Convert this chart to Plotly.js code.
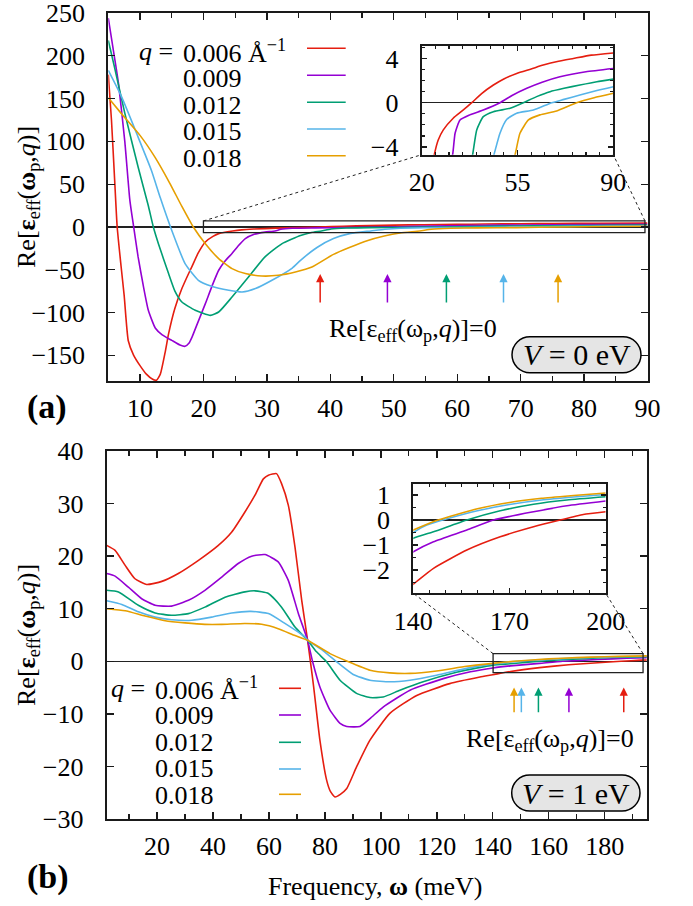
<!DOCTYPE html>
<html><head><meta charset="utf-8">
<script src="https://cdn.plot.ly/plotly-3.0.1.min.js"></script>
<style>body{margin:0;background:#fff}#chart{width:693px;height:906px}</style>
</head><body><div id="chart"></div>
<script>
// ---------- data ----------
const qLabels = ['0.006', '0.009', '0.012', '0.015', '0.018'];
const colors = ['#e51e10', '#9400d3', '#009e73', '#56b4e9', '#e69f00'];

// Panel (a): V = 0 eV
const aX006 = [5, 5.5, 6, 6.4, 7, 7.5, 8.15, 9, 10, 11, 12, 12.6, 13.2, 14, 14.5, 15.5, 16.6, 17.5, 18.2, 19.2, 20.3, 21.5, 22.5, 24.6, 26, 27.9, 31.5, 35, 38.3, 42, 46.2, 50, 54.7, 60, 64.4, 70, 75.4, 82, 90];
const aY006 = [178, 125, 55, 0, -45, -80, -133, -150, -162, -172, -178, -179, -172, -145, -125, -95, -72, -57, -46, -30, -17.5, -11, -7.5, -4.7, -3.4, -2.46, -1.4, -0.7, 0, 0.85, 1.6, 2.15, 2.65, 3.05, 3.4, 3.75, 4.0, 4.3, 4.5];
const aX009 = [5, 6, 6.6, 7.6, 8.4, 9.0, 9.7, 10.5, 11.3, 12.4, 13.5, 15, 16.3, 17.1, 17.7, 18.2, 19.2, 20.3, 21.3, 22.4, 23.5, 24.5, 25.5, 26.6, 28, 29.7, 31.3, 32.2, 34, 37.6, 42.5, 48.6, 53, 58.4, 64, 70.5, 80, 90];
const aY009 = [244, 197, 168, 100, 31, 0, -35, -68, -97, -118, -126, -132.5, -138, -139.5, -136, -128.7, -110, -89.6, -70, -50.6, -39, -31, -22, -13.6, -8.5, -6, -4.7, -2.76, -1.56, -1.1, -0.66, 0, 0.65, 1.3, 1.85, 2.34, 2.8, 3.1];
const aX012 = [5, 6, 7.6, 9.7, 11.3, 12.1, 12.9, 14.5, 15.5, 16.6, 18.7, 21.1, 22.4, 24.5, 27.1, 29.7, 32.4, 35.3, 37, 38.6, 40.1, 42.5, 46.2, 52.3, 57.1, 62, 66.9, 72, 77.8, 84, 90];
const aY012 = [218, 186, 133, 70, 25, 0, -19.5, -54.5, -75, -87.7, -97.4, -103.3, -99.4, -81.9, -58.5, -35, -19.5, -10, -6.5, -4.7, -2.46, -1.26, -0.81, -0.5, 0, 0.55, 1.0, 1.3, 1.6, 1.9, 2.13];
const aX015 = [5, 7.1, 9.7, 11.8, 13.2, 14.8, 17.1, 19.2, 21.3, 24, 26.1, 28.2, 30.8, 34, 35.3, 37.9, 40.5, 43.2, 46.4, 48.6, 51.1, 54.7, 60.8, 67.5, 72, 77.8, 84, 90];
const aY015 = [183, 152, 105, 66, 34, 0, -42.8, -62.3, -69.4, -74, -76, -72, -62.3, -48, -39, -24, -13.6, -7.5, -4.7, -2.76, -1.5, -0.95, -0.66, 0, 0.3, 0.69, 1.1, 1.44];
const aX018 = [5, 7, 10, 12.4, 14.7, 16.6, 18.4, 20.3, 22.4, 24.5, 26.6, 29.2, 31.8, 34.5, 37.1, 40.5, 43, 45.8, 48.5, 51, 54.1, 55.9, 59, 63.2, 69.3, 76.6, 83, 90];
const aY018 = [151, 133, 107, 81, 51, 24, 0, -19.5, -37, -48.7, -54.5, -57.3, -56.5, -52.6, -46.8, -32, -24, -16, -10.5, -7, -4.7, -2.76, -1.56, -1.1, -0.75, 0, 0.45, 0.85];
const aArrows = [38.4, 49.0, 58.3, 67.3, 75.9];

// Panel (b): V = 1 eV
const bX006 = [2, 5, 8.6, 12.1, 16.3, 21.7, 27.6, 34.8, 41.9, 46.7, 51.4, 55, 58, 59.8, 62.7, 64.5, 66.9, 69.3, 71.7, 73.8, 74.8, 76, 78.2, 80.6, 82, 83.6, 85.5, 87.8, 91.3, 96.1, 103.2, 112.8, 124.6, 135.4, 140, 146.3, 156.7, 167.1, 177.5, 185.8, 193, 200];
const bY006 = [22.05, 21.1, 18.25, 15.7, 14.6, 15.2, 16.7, 19.2, 22.05, 24.6, 28.4, 31.6, 34.7, 35.4, 35.7, 33.8, 29.7, 21.7, 11.6, 4.0, 0, -5, -15, -22.6, -24.8, -25.8, -25.3, -24.2, -20.1, -15, -9.9, -6.5, -4.25, -3.0, -2.56, -1.93, -1.2, -0.67, -0.27, 0, 0.22, 0.33];
const bX009 = [2, 5, 9.75, 14.5, 19.3, 25.2, 31.2, 37.1, 43.1, 49, 53.8, 58.6, 63.3, 66.9, 70.5, 73.8, 75.6, 78.2, 81.8, 85.4, 87.8, 92.5, 96.1, 100.8, 110.4, 122.3, 132, 140, 146.3, 156.7, 165, 177.5, 187.9, 200];
const bY009 = [16.7, 16.2, 14.1, 11.9, 10.65, 10.5, 11.6, 13.5, 16, 18.6, 20, 20.3, 18.9, 15.4, 9.1, 4.0, -0.1, -4.9, -9.3, -11.8, -12.4, -12.4, -10.9, -8.7, -5.5, -3.3, -2.0, -1.27, -0.87, -0.4, 0, 0.33, 0.57, 0.76];
const bX012 = [2, 6.2, 13.3, 19.3, 25.2, 31.2, 37.1, 44.3, 51.4, 55, 59.8, 64.5, 69.3, 73.8, 77, 80.6, 85.4, 91.3, 96.1, 100.8, 106.8, 115.1, 127, 134, 140, 146.3, 156.7, 167.1, 177.5, 187.9, 200];
const bY012 = [13.5, 13.2, 10.65, 9.2, 8.75, 9.07, 10.3, 12.2, 13.2, 13.4, 12.9, 10.3, 6.5, 4.0, 1.8, -0.1, -3.6, -6.1, -6.9, -6.8, -5.5, -3.9, -2.1, -1.3, -0.73, -0.47, 0, 0.37, 0.63, 0.8, 0.93];
const bX015 = [2, 7.4, 13.3, 19.3, 25.2, 32.4, 39.5, 46.7, 53.5, 59.8, 65.4, 72.9, 73.8, 79.4, 84.2, 90.1, 96.1, 103.2, 110.4, 119.9, 130.6, 140, 144.2, 150, 160, 170, 180, 190, 200];
const bY015 = [11.5, 10.8, 9.4, 8.4, 7.9, 7.8, 8.4, 9.2, 9.5, 9.07, 7.3, 4.6, 4.0, 2.0, -0.1, -2.5, -3.6, -3.9, -3.6, -2.66, -1.35, -0.5, -0.2, 0.03, 0.37, 0.62, 0.8, 0.92, 1.02];
const bX018 = [2, 8.6, 15.7, 22.9, 30, 37.1, 43.1, 51.4, 57.4, 63.3, 69.3, 73.8, 81.8, 88, 96.1, 103.2, 110.4, 119.9, 130.6, 140, 147.7, 160, 170, 180, 190, 200];
const bY018 = [10.0, 9.6, 8.6, 7.7, 7.3, 7.03, 7.03, 7.2, 7.03, 6.2, 4.9, 4.0, 1.46, 0, -1.7, -2.2, -2.3, -1.84, -0.95, -0.4, 0, 0.45, 0.7, 0.87, 0.98, 1.08];
const bArrows = [186.8, 167.2, 156.3, 150.2, 147.6];

// ---------- layout helpers ----------
const W = 693, H = 906;
const PX = p => p / W;
const PY = p => 1 - p / H;
const FONT = '"Liberation Serif", "Times New Roman", serif';

const dom = {
  a:  {x: [PX(108.3), PX(647.5)], y: [PY(381), PY(13)], xr: [5, 90], yr: [-180, 250]},
  b:  {x: [PX(106.7), PX(646.7)], y: [PY(819), PY(451)], xr: [2, 195], yr: [-30, 40]},
  ia: {x: [PX(421.7), PX(613.3)], y: [PY(154.7), PY(46.3)], xr: [20, 90], yr: [-4.7, 5.1]},
  ib: {x: [PX(413.3), PX(605.7)], y: [PY(593.3), PY(484.3)], xr: [140, 200], yr: [-2.93, 1.43]}
};
function paperToData(d, px, py) {
  return [d.xr[0] + (px - d.x[0]) / (d.x[1] - d.x[0]) * (d.xr[1] - d.xr[0]),
          d.yr[0] + (py - d.y[0]) / (d.y[1] - d.y[0]) * (d.yr[1] - d.yr[0])];
}

function axis(d, which, opts) {
  return Object.assign({
    domain: which === 'x' ? d.x : d.y,
    range: which === 'x' ? d.xr : d.yr,
    showgrid: false, zeroline: false,
    showline: true, linecolor: '#1a1a1a', linewidth: 2, mirror: 'ticks',
    ticks: 'inside', ticklen: 7, tickwidth: 1.3, tickcolor: '#1a1a1a',
    tickfont: {family: FONT, size: 26, color: '#000'},
    ticklabeloverflow: 'allow',
    ticklabelstandoff: which === 'x' ? 3 : 16,
    fixedrange: true
  }, opts);
}

const seriesA = [[aX006, aY006], [aX009, aY009], [aX012, aY012], [aX015, aY015], [aX018, aY018]];
const seriesB = [[bX006, bY006], [bX009, bY009], [bX012, bY012], [bX015, bY015], [bX018, bY018]];

const traces = [];
const lineStyle = i => ({color: colors[i], width: 1.6, shape: 'spline', smoothing: 0.5});
seriesA.forEach((s, i) => {
  traces.push({x: s[0], y: s[1], xaxis: 'x', yaxis: 'y', mode: 'lines', line: lineStyle(i), showlegend: false, hoverinfo: 'skip'});
  traces.push({x: s[0], y: s[1], xaxis: 'x3', yaxis: 'y3', mode: 'lines', line: lineStyle(i), showlegend: false, hoverinfo: 'skip'});
});
seriesB.forEach((s, i) => {
  traces.push({x: s[0], y: s[1], xaxis: 'x2', yaxis: 'y2', mode: 'lines', line: lineStyle(i), showlegend: false, hoverinfo: 'skip'});
  traces.push({x: s[0], y: s[1], xaxis: 'x4', yaxis: 'y4', mode: 'lines', line: lineStyle(i), showlegend: false, hoverinfo: 'skip'});
});

const annotations = [];
const shapes = [];
const txt = (text, x, y, size, extra) => Object.assign({text, x, y, xref: 'paper', yref: 'paper', showarrow: false, font: {family: FONT, size: size, color: '#000'}, xanchor: 'center', yanchor: 'middle'}, extra || {});

// arrows marking Re[eps]=0
aArrows.forEach((xv, i) => annotations.push({x: xv, y: -55, ax: xv, ay: -90, xref: 'x', yref: 'y', axref: 'x', ayref: 'y', text: '', showarrow: true, arrowhead: 2, arrowsize: 1.1, arrowwidth: 1.5, arrowcolor: colors[i], standoff: 0, startstandoff: 0}));
bArrows.forEach((xv, i) => annotations.push({x: xv, y: -5, ax: xv, ay: -10, xref: 'x2', yref: 'y2', axref: 'x2', ayref: 'y2', text: '', showarrow: true, arrowhead: 2, arrowsize: 1.1, arrowwidth: 1.5, arrowcolor: colors[i], standoff: 0, startstandoff: 0}));

const reText = 'Re[ε<sub>eff</sub>(ω<sub>p</sub>,<i>q</i>)]=0';
annotations.push(txt(reText, PX(413), PY(330), 26));
annotations.push(txt(reText, PX(549.5), PY(740), 26));

// V boxes
function stadium(x1, y1, x2, y2) {
  const r = (y2 - y1) / 2, k = 0.5523 * r, cy = (y1 + y2) / 2;
  const P = (x, y) => PX(x).toFixed(5) + ',' + PY(y).toFixed(5);
  return 'M ' + P(x1 + r, y1) + ' L ' + P(x2 - r, y1) +
    ' C ' + P(x2 - r + k, y1) + ' ' + P(x2, cy - k) + ' ' + P(x2, cy) +
    ' C ' + P(x2, cy + k) + ' ' + P(x2 - r + k, y2) + ' ' + P(x2 - r, y2) +
    ' L ' + P(x1 + r, y2) +
    ' C ' + P(x1 + r - k, y2) + ' ' + P(x1, cy + k) + ' ' + P(x1, cy) +
    ' C ' + P(x1, cy - k) + ' ' + P(x1 + r - k, y1) + ' ' + P(x1 + r, y1) + ' Z';
}
shapes.push({type: 'path', xref: 'paper', yref: 'paper', path: stadium(512, 336.7, 641, 372.7), fillcolor: '#e5e5e5', line: {color: '#000', width: 1.5}, layer: 'above'});
shapes.push({type: 'path', xref: 'paper', yref: 'paper', path: stadium(511.7, 775, 640, 811), fillcolor: '#e5e5e5', line: {color: '#000', width: 1.5}, layer: 'above'});
annotations.push(txt('<i>V</i> = 0 eV', PX(576.5), PY(354.7), 30));
annotations.push(txt('<i>V</i> = 1 eV', PX(575.8), PY(793), 30));

// zoom rectangles + dashed connectors
shapes.push({type: 'rect', xref: 'x', yref: 'y', x0: 20, x1: 89.6, y0: -6.55, y1: 7, line: {color: '#222', width: 1.3}, layer: 'above'});
shapes.push({type: 'rect', xref: 'x2', yref: 'y2', x0: 140.1, x1: 193.7, y0: -2.15, y1: 1.46, line: {color: '#222', width: 1.3}, layer: 'above'});
const cA1 = paperToData(dom.a, dom.ia.x[0], dom.ia.y[0]);
const cA2 = paperToData(dom.a, dom.ia.x[1], dom.ia.y[0]);
shapes.push({type: 'line', xref: 'x', yref: 'y', x0: 20, y0: 7, x1: cA1[0], y1: cA1[1], line: {color: '#222', width: 1, dash: '3px,3px'}});
shapes.push({type: 'line', xref: 'x', yref: 'y', x0: 89.6, y0: 7, x1: cA2[0], y1: cA2[1], line: {color: '#222', width: 1, dash: '3px,3px'}});
const cB1 = paperToData(dom.b, dom.ib.x[0], dom.ib.y[0]);
const cB2 = paperToData(dom.b, dom.ib.x[1], dom.ib.y[0]);
shapes.push({type: 'line', xref: 'x2', yref: 'y2', x0: 140.1, y0: 1.46, x1: cB1[0], y1: cB1[1], line: {color: '#222', width: 1, dash: '3px,3px'}});
shapes.push({type: 'line', xref: 'x2', yref: 'y2', x0: 193.7, y0: 1.46, x1: cB2[0], y1: cB2[1], line: {color: '#222', width: 1, dash: '3px,3px'}});

// custom legends (text left, line sample right)
const legA = {qx: 175, numX: 180.7, lineX: [307, 345.7], lineY: [48.3, 75.3, 102.3, 129, 155.7], textY: [51.7, 78.5, 105.3, 132, 158.7]};
const legB = {qx: 147, numX: 152.7, lineX: [279, 301], lineY: [688.3, 715, 742.3, 769, 794.3], textY: [688.7, 715.3, 742, 768.7, 795.3]};
[legA, legB].forEach(L => {
  qLabels.forEach((lab, i) => {
    const t = i === 0 ? lab + ' Å<sup>−1</sup>' : lab;
    annotations.push(txt(t, PX(L.numX), PY(L.textY[i]), 26, {xanchor: 'left'}));
    shapes.push({type: 'line', xref: 'paper', yref: 'paper', x0: PX(L.lineX[0]), x1: PX(L.lineX[1]), y0: PY(L.lineY[i]), y1: PY(L.lineY[i]), line: {color: colors[i], width: 1.6}});
  });
  annotations.push(txt('<i>q</i> =', PX(L.qx), PY(L.textY[0]), 26, {xanchor: 'right'}));
});

// axis titles and panel labels
const yTitle = 'Re[<b>ε</b><sub>eff</sub>(<b>ω</b><sub>p</sub>,<i>q</i>)]';
annotations.push(txt(yTitle, PX(28), PY(197), 26, {textangle: -90}));
annotations.push(txt(yTitle, PX(28), PY(635), 26, {textangle: -90}));
annotations.push(txt('Frequency, <b>ω</b> (meV)', PX(375), PY(886.7), 26));
annotations.push(txt('<b>(a)</b>', PX(46.7), PY(407.3), 34));
annotations.push(txt('<b>(b)</b>', PX(48), PY(877), 34));

const minorOf = (dt, len) => ({ticks: 'inside', dtick: dt, ticklen: len, tickcolor: '#1a1a1a', tickwidth: 1.2});
const zl = {zeroline: true, zerolinecolor: '#222', zerolinewidth: 1.2};

const layout = {
  width: W, height: H,
  margin: {l: 0, r: 0, t: 0, b: 0, pad: 0},
  paper_bgcolor: '#fff', plot_bgcolor: 'rgba(0,0,0,0)',
  showlegend: false,
  xaxis: axis(dom.a, 'x', {anchor: 'y', tick0: 0, dtick: 10, minor: minorOf(5, 5)}),
  yaxis: axis(dom.a, 'y', Object.assign({anchor: 'x', tick0: 0, dtick: 50}, zl)),
  xaxis2: axis(dom.b, 'x', {anchor: 'y2', tick0: 0, dtick: 20, minor: minorOf(10, 5)}),
  yaxis2: axis(dom.b, 'y', Object.assign({anchor: 'x2', tick0: 0, dtick: 10}, zl)),
  xaxis3: axis(dom.ia, 'x', {anchor: 'y3', tick0: 20, dtick: 35, ticklen: 5, minor: minorOf(5, 3)}),
  yaxis3: axis(dom.ia, 'y', Object.assign({anchor: 'x3', tick0: 0, dtick: 4, ticklen: 5, minor: minorOf(1, 3)}, zl)),
  xaxis4: axis(dom.ib, 'x', {anchor: 'y4', tick0: 140, dtick: 30, ticklen: 5, minor: minorOf(5, 3)}),
  yaxis4: axis(dom.ib, 'y', Object.assign({anchor: 'x4', tick0: 0, dtick: 1, ticklen: 5, minor: minorOf(0.5, 3)}, zl)),
  annotations: annotations,
  shapes: shapes,
  font: {family: FONT, color: '#000'}
};

Plotly.newPlot('chart', traces, layout, {staticPlot: true, displayModeBar: false});
</script></body></html>
